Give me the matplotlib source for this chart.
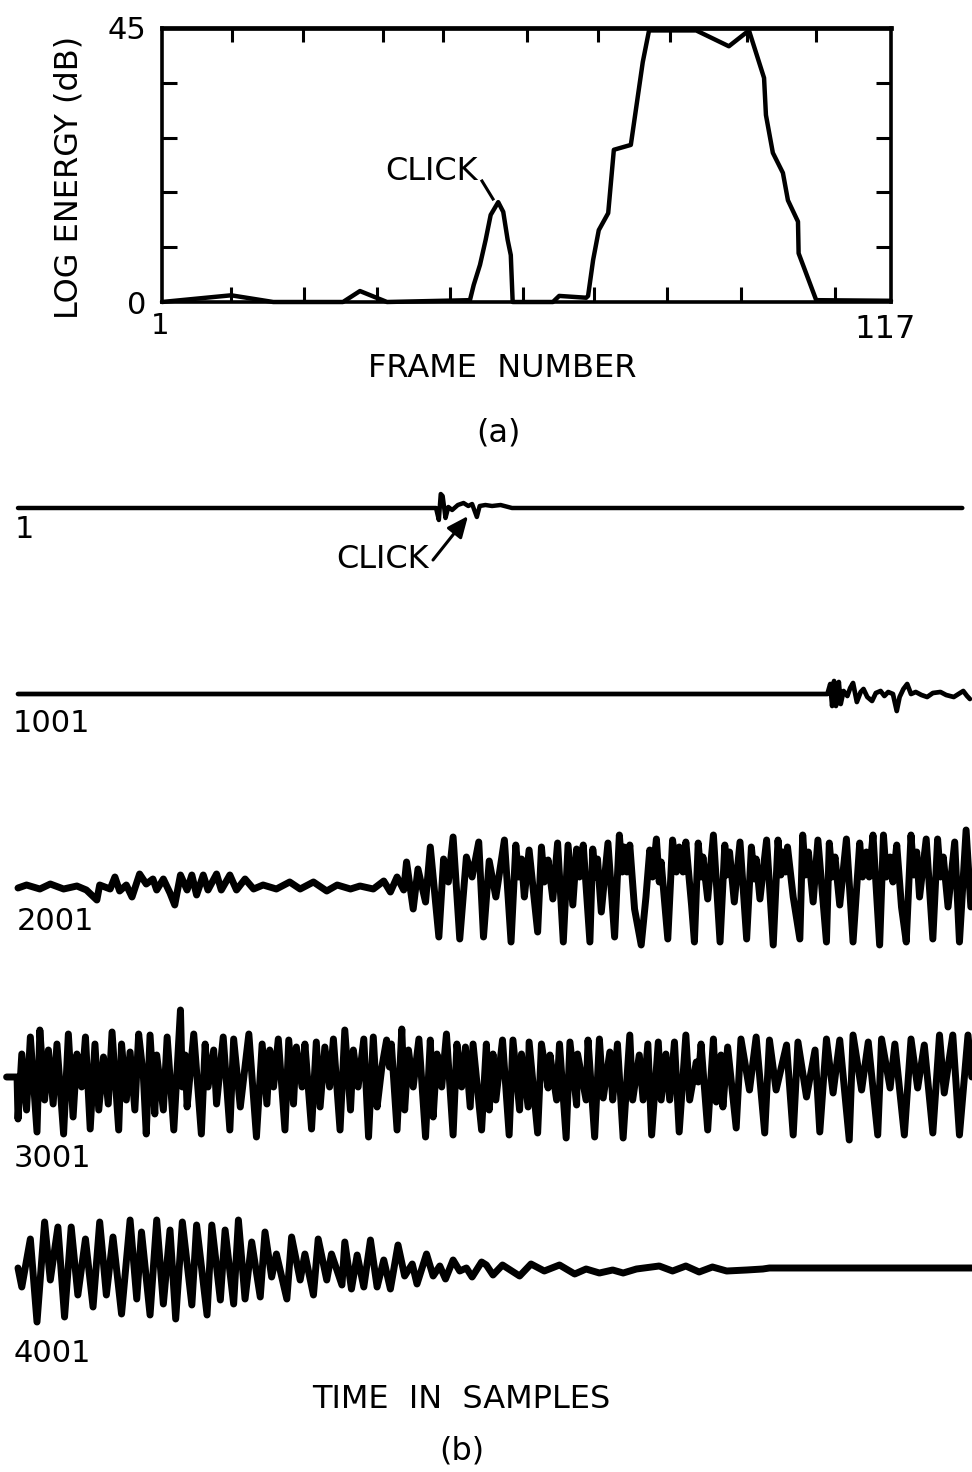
import matplotlib
matplotlib.use('Agg')
import matplotlib.pyplot as plt

W, H, DPI = 972, 1472, 100
plt.rcParams['font.family'] = ['DejaVu Sans']

# ---------------- (a) log energy per frame ----------------
frames = [1, 12.0, 18.7, 29.8, 32.5, 36.8, 50.0, 50.6, 51.6, 52.5, 53.3, 54.5, 55.3,
          56.0, 56.5, 56.8, 63.2, 64.2, 68.5, 68.8, 69.6, 70.5, 72.0, 72.9, 75.6,
          77.5, 78.5, 86.0, 91.2, 94.4, 96.8, 97.1, 98.2, 99.8, 100.6, 102.2, 102.3,
          105.1, 117]
energy = [0, 1.1, 0, 0, 1.8, 0, 0.3, 2.8, 6.1, 10.2, 14.3, 16.4, 14.8,
          10.2, 7.7, 0, 0, 1.0, 0.7, 1.0, 6.9, 11.8, 14.6, 25.0, 25.8,
          39.4, 44.6, 44.6, 42.0, 44.6, 36.8, 30.7, 24.5, 21.2, 16.7, 13.2, 8.0,
          0.3, 0.2]
x_ticks_bottom = [12.0, 23.6, 35.2, 46.8, 58.4, 69.7, 81.3, 93.1, 108.1]
x_ticks_top = [12.1, 23.4, 36.2, 45.7, 59.1, 70.4, 81.8, 94.1, 105.1]
y_ticks = [9, 18, 27, 36]

# ---------------- (b) waveform rows: (sample within row, amplitude) ----------------
row_labels = ['1', '1001', '2001', '3001', '4001']

ROW1 = [(0, 0), (440, 0), (443, -12), (445, 14), (447, 12), (450, -10), (453, 1),
        (457, -2), (463, 3), (469, 5), (474, 2), (478, 4), (483, -9), (486, 2),
        (492, 3), (499, 2), (508, 3), (516, 1), (520, 0), (994, 0)]

ROW2 = [(0, 0), (852, 0), (855, 10), (857, -12), (859, 13), (861, -12), (864, 12),
        (866, -10), (869, 3), (873, -2), (876, 6), (879, 11), (883, -8), (887, 2),
        (890, 5), (894, -3), (899, -7), (903, 1), (908, 3), (912, -2), (916, 2),
        (921, 0), (925, -17), (928, -3), (932, 5), (936, 10), (940, 0), (945, 2),
        (951, -1), (957, -3), (963, 1), (971, 2), (977, -1), (985, -3), (990, 0),
        (995, 3), (999, -2), (1002, -5)]

ROW3 = [(0, -1), (9, 2), (23, -2), (34, 3), (48, -2), (62, 1), (72, -3), (83, -13),
        (86, 2), (97, -2), (102, 10), (107, -4), (114, 2), (120, -10), (128, 13),
        (135, 3), (142, 8), (146, -3), (153, 8), (160, -6), (165, -18), (171, 12),
        (178, -3), (183, 12), (188, -8), (195, 12), (200, -3), (209, 13), (214, -3),
        (223, 12), (230, -3), (239, 8), (248, -2), (258, 2), (272, -2), (286, 5),
        (297, -2), (311, 5), (325, -4), (336, 2), (350, -2), (360, 1), (374, -2),
        (385, 6), (392, -5), (399, 10), (406, -3), (409, 25), (416, -22), (421, 18),
        (429, -15), (434, 40), (443, -50), (448, 28), (453, 5), (458, 50), (465, -52),
        (472, 30), (478, 10), (485, 45), (490, -50),
        (496, 26), (503, -10), (512, 47), (519, -55), (524, 42), (527, 10), (530, 28),
        (533, -10), (538, 37), (547, -45), (551, 40), (554, 5), (558, 27), (563, -12),
        (568, 44), (574, -55), (579, 42), (584, -18), (588, 38), (591, 10), (595, 42),
        (602, -55), (605, 38), (608, 10), (610, 28), (614, -25), (621, 44), (628, -50),
        (633, 52), (636, 15), (638, 40), (641, 15), (644, 42), (649, -22), (656, -58),
        (661, -10), (665, 37), (668, 10), (672, 48), (675, 5), (677, 25), (684, -52),
        (689, 47), (693, 15), (696, 40), (700, 15), (703, 45), (709, -18), (712, -55),
        (716, 44), (719, 10), (721, 30), (726, -12), (732, 52), (739, -55), (744, 42),
        (746, 12), (749, 35), (754, -15), (760, 45), (767, -52), (772, 40), (775, 8),
        (777, 28), (781, -12), (788, 47), (795, -58), (800, 47), (803, 12), (805, 35),
        (808, 15), (810, 40), (816, -10), (823, -52), (826, 52), (829, 12), (832, 35),
        (837, -15), (842, 47), (851, -55), (854, 44), (857, 10), (860, 30), (865, -18),
        (872, 48), (879, -55), (886, 44), (889, 10), (893, 35), (896, 10), (900, 52),
        (907, -58), (911, 52), (914, 10), (918, 30), (921, 5), (925, 42), (930, -20),
        (935, -55), (940, 52), (943, 12), (946, 35), (949, -10), (956, 48), (963, -52),
        (968, 48), (971, 10), (974, 30), (979, -20), (986, 45), (991, -55), (998, 57),
        (1003, -20)]

ROW4 = [(-12, 0), (-1, 0), (0, -42), (4, 23), (9, -33), (13, 40), (20, -55), (23, 47),
        (28, -23), (32, 27), (37, -27), (41, 33), (48, -57), (53, 43), (58, -40),
        (62, 23), (67, -10), (71, 40), (76, -52), (81, 33), (85, -33), (90, 20),
        (95, -27), (99, 45), (106, -53), (109, 33), (114, -23), (118, 25), (123, -33),
        (127, 43), (132, 0), (135, -57), (139, 42), (144, -37), (146, 22), (153, -33),
        (157, 40), (164, -53), (171, 67), (173, -10), (176, 22), (178, -30), (185, 43),
        (193, -57), (197, 33), (200, -10), (206, 27), (209, -27), (216, 40), (223, -53),
        (227, 38), (234, -30), (243, 43), (251, -60), (257, 33), (262, -27), (265, 27),
        (269, -10), (274, 38), (281, -53), (285, 37), (290, -27), (293, 30), (299, -10),
        (302, 33), (309, -52), (314, 35), (318, -30), (323, 30), (328, -10), (332, 38),
        (339, -53), (344, 47), (350, -33), (353, 27), (358, -10), (364, 38), (369, -60),
        (374, 40), (378, -30), (383, 10), (388, 37), (391, 10), (393, 33), (399, -53),
        (404, 48), (407, -33), (411, 27), (416, -10), (422, 38), (429, -60), (434, 37),
        (437, -40), (441, 23), (446, -10), (451, 43), (458, -58), (462, 33), (467, -10),
        (471, 30), (476, -30), (479, 33), (488, -53),
        (493, 33), (496, -33), (500, 23), (503, -23), (510, 37), (517, -58), (521, 37),
        (528, -33), (530, 23), (537, -30), (538, 35), (547, -56), (551, 33), (558, -11),
        (560, 22), (567, -23), (570, 33), (577, -61), (581, 35), (588, -28), (589, 23),
        (598, -23), (600, 37), (607, -60), (612, 38), (616, -21), (623, 25), (626, -23),
        (631, 33), (637, -61), (644, 42), (647, -23), (654, 22), (658, -23), (663, 33),
        (667, -58), (674, 35), (677, -23), (682, 23), (686, -23), (691, 35), (696, -55),
        (703, 42), (707, -23), (714, 15), (716, -5), (719, 33), (726, -53), (732, 38),
        (735, -25), (740, 22), (742, -30), (747, 30), (756, -51), (761, 38), (770, -13),
        (777, 40), (786, -56), (791, 37), (798, -13), (809, 32), (816, -58), (821, 35),
        (830, -20), (839, 27), (844, -55), (851, 38), (858, -16), (865, 37), (875, -63),
        (879, 42), (888, -13), (895, 35), (905, -58), (909, 38), (918, -11), (923, 33),
        (933, -58), (940, 38), (947, -11), (954, 32), (963, -56), (970, 42), (975, -16),
        (984, 42), (991, -58), (1000, 42), (1004, 0)]

ROW5 = [(0, 0), (4, -19), (13, 29), (20, -54), (28, 46), (34, -12), (42, 41), (49, -49),
        (56, 41), (63, -27), (71, 29), (79, -39), (86, 46), (93, -27), (100, 31),
        (109, -46), (118, 48), (125, -31), (130, 36), (139, -47), (146, 48), (153, -36),
        (160, 38), (166, -51), (173, 46), (183, -37), (188, 43), (199, -47), (204, 43),
        (213, -32), (218, 38), (227, -36), (232, 48), (239, -31), (246, 26), (255, -29),
        (260, 36), (267, -9), (272, 14), (283, -31), (288, 31), (297, -12), (302, 14),
        (311, -27), (316, 29), (325, -12), (330, 14), (341, -17), (344, 26), (351, -21),
        (357, 13), (364, -19), (371, 28), (378, -19), (385, 8), (392, -21), (400, 23),
        (407, -8), (415, 4), (420, -16), (430, 14), (437, -8), (444, 2), (450, -11),
        (458, 8), (465, -3), (472, 0), (478, -9), (488, 6),
        (493, 3), (500, -7), (510, 3), (528, -8), (540, 4), (554, -3), (570, 3),
        (586, -6), (598, -1), (612, -5), (626, -2), (637, -5), (651, -1), (675, 2),
        (689, -3), (703, 2), (717, -4), (731, 1), (746, -3), (767, -2), (784, -1),
        (791, 0), (1004, 0)]

# ---------------- figure ----------------
fig = plt.figure(figsize=(W / DPI, H / DPI), dpi=DPI)


def fx(px):
    return px / W


def fy(py):
    return 1 - py / H


# panel (a)
ax = fig.add_axes([fx(162), fy(302), (891 - 162) / W, (302 - 28) / H])
ax.plot(frames, energy, color='black', lw=3.2, solid_joinstyle='round',
        solid_capstyle='round', clip_on=False, zorder=5)
ax.set_xlim(1, 117)
ax.set_ylim(0, 45)
for s in ax.spines.values():
    s.set_linewidth(2.6)
ax.spines['top'].set_linewidth(3.4)
ax.set_xticks(x_ticks_bottom)
ax.set_yticks(y_ticks)
ax.tick_params(direction='in', length=11, width=2.2, labelbottom=False,
               labelleft=False, right=True, left=True, bottom=True, top=False)
sec = ax.secondary_xaxis('top')
sec.set_xticks(x_ticks_top)
sec.tick_params(direction='in', length=10, width=2.2, labeltop=False)
sec.spines['top'].set_visible(False)

# panel (b) waveforms
aw = fig.add_axes([0, 0, 1, 1])
aw.set_xlim(-18 / 0.95, (W - 18) / 0.95)
aw.set_ylim(H, 0)
aw.axis('off')
aw.patch.set_alpha(0)
rows = [ROW1, ROW2, ROW3, ROW4, ROW5]
baselines = [508, 694, 887, 1077, 1268]
widths = [3.2, 3.4, 5.0, 5.0, 5.0]
for data, base, lw in zip(rows, baselines, widths):
    n = [p[0] for p in data]
    a = [base - p[1] for p in data]
    aw.plot(n, a, color='black', lw=lw, solid_joinstyle='round',
            solid_capstyle='round', clip_on=False)

# overlay for text
ov = fig.add_axes([0, 0, 1, 1])
ov.set_xlim(0, W)
ov.set_ylim(H, 0)
ov.axis('off')
ov.patch.set_alpha(0)

big = 23
ov.text(69, 177, 'LOG ENERGY (dB)', rotation=90, ha='center', va='center', fontsize=big)
ov.text(127, 39, '45', ha='center', va='baseline', fontsize=22)
ov.text(137, 314, '0', ha='center', va='baseline', fontsize=22)
ov.text(160, 334, '1', ha='center', va='baseline', fontsize=21)
ov.text(885, 338, '117', ha='center', va='baseline', fontsize=23)
ov.text(502, 377, 'FRAME  NUMBER', ha='center', va='baseline', fontsize=big)
ov.text(498, 442, '(a)', ha='center', va='baseline', fontsize=big)
ov.text(432, 180, 'CLICK', ha='center', va='baseline', fontsize=23)
ov.plot([482, 493], [181, 199], color='black', lw=2.2)

label_pos = [(15, 538), (13, 732), (17, 930), (14, 1167), (14, 1362)]
for lab, (x, y) in zip(row_labels, label_pos):
    ov.text(x, y, lab, ha='left', va='baseline', fontsize=22)

ov.text(383, 568, 'CLICK', ha='center', va='baseline', fontsize=23)
ov.annotate('', xy=(468, 516), xytext=(433, 560),
            arrowprops=dict(arrowstyle='-|>,head_length=0.8,head_width=0.35',
                            color='black', lw=2.2, shrinkA=0, shrinkB=0,
                            mutation_scale=16))
ov.text(461, 1408, 'TIME  IN  SAMPLES', ha='center', va='baseline', fontsize=big)
ov.text(462, 1459, '(b)', ha='center', va='baseline', fontsize=big)

fig.savefig('out.png', dpi=DPI)
